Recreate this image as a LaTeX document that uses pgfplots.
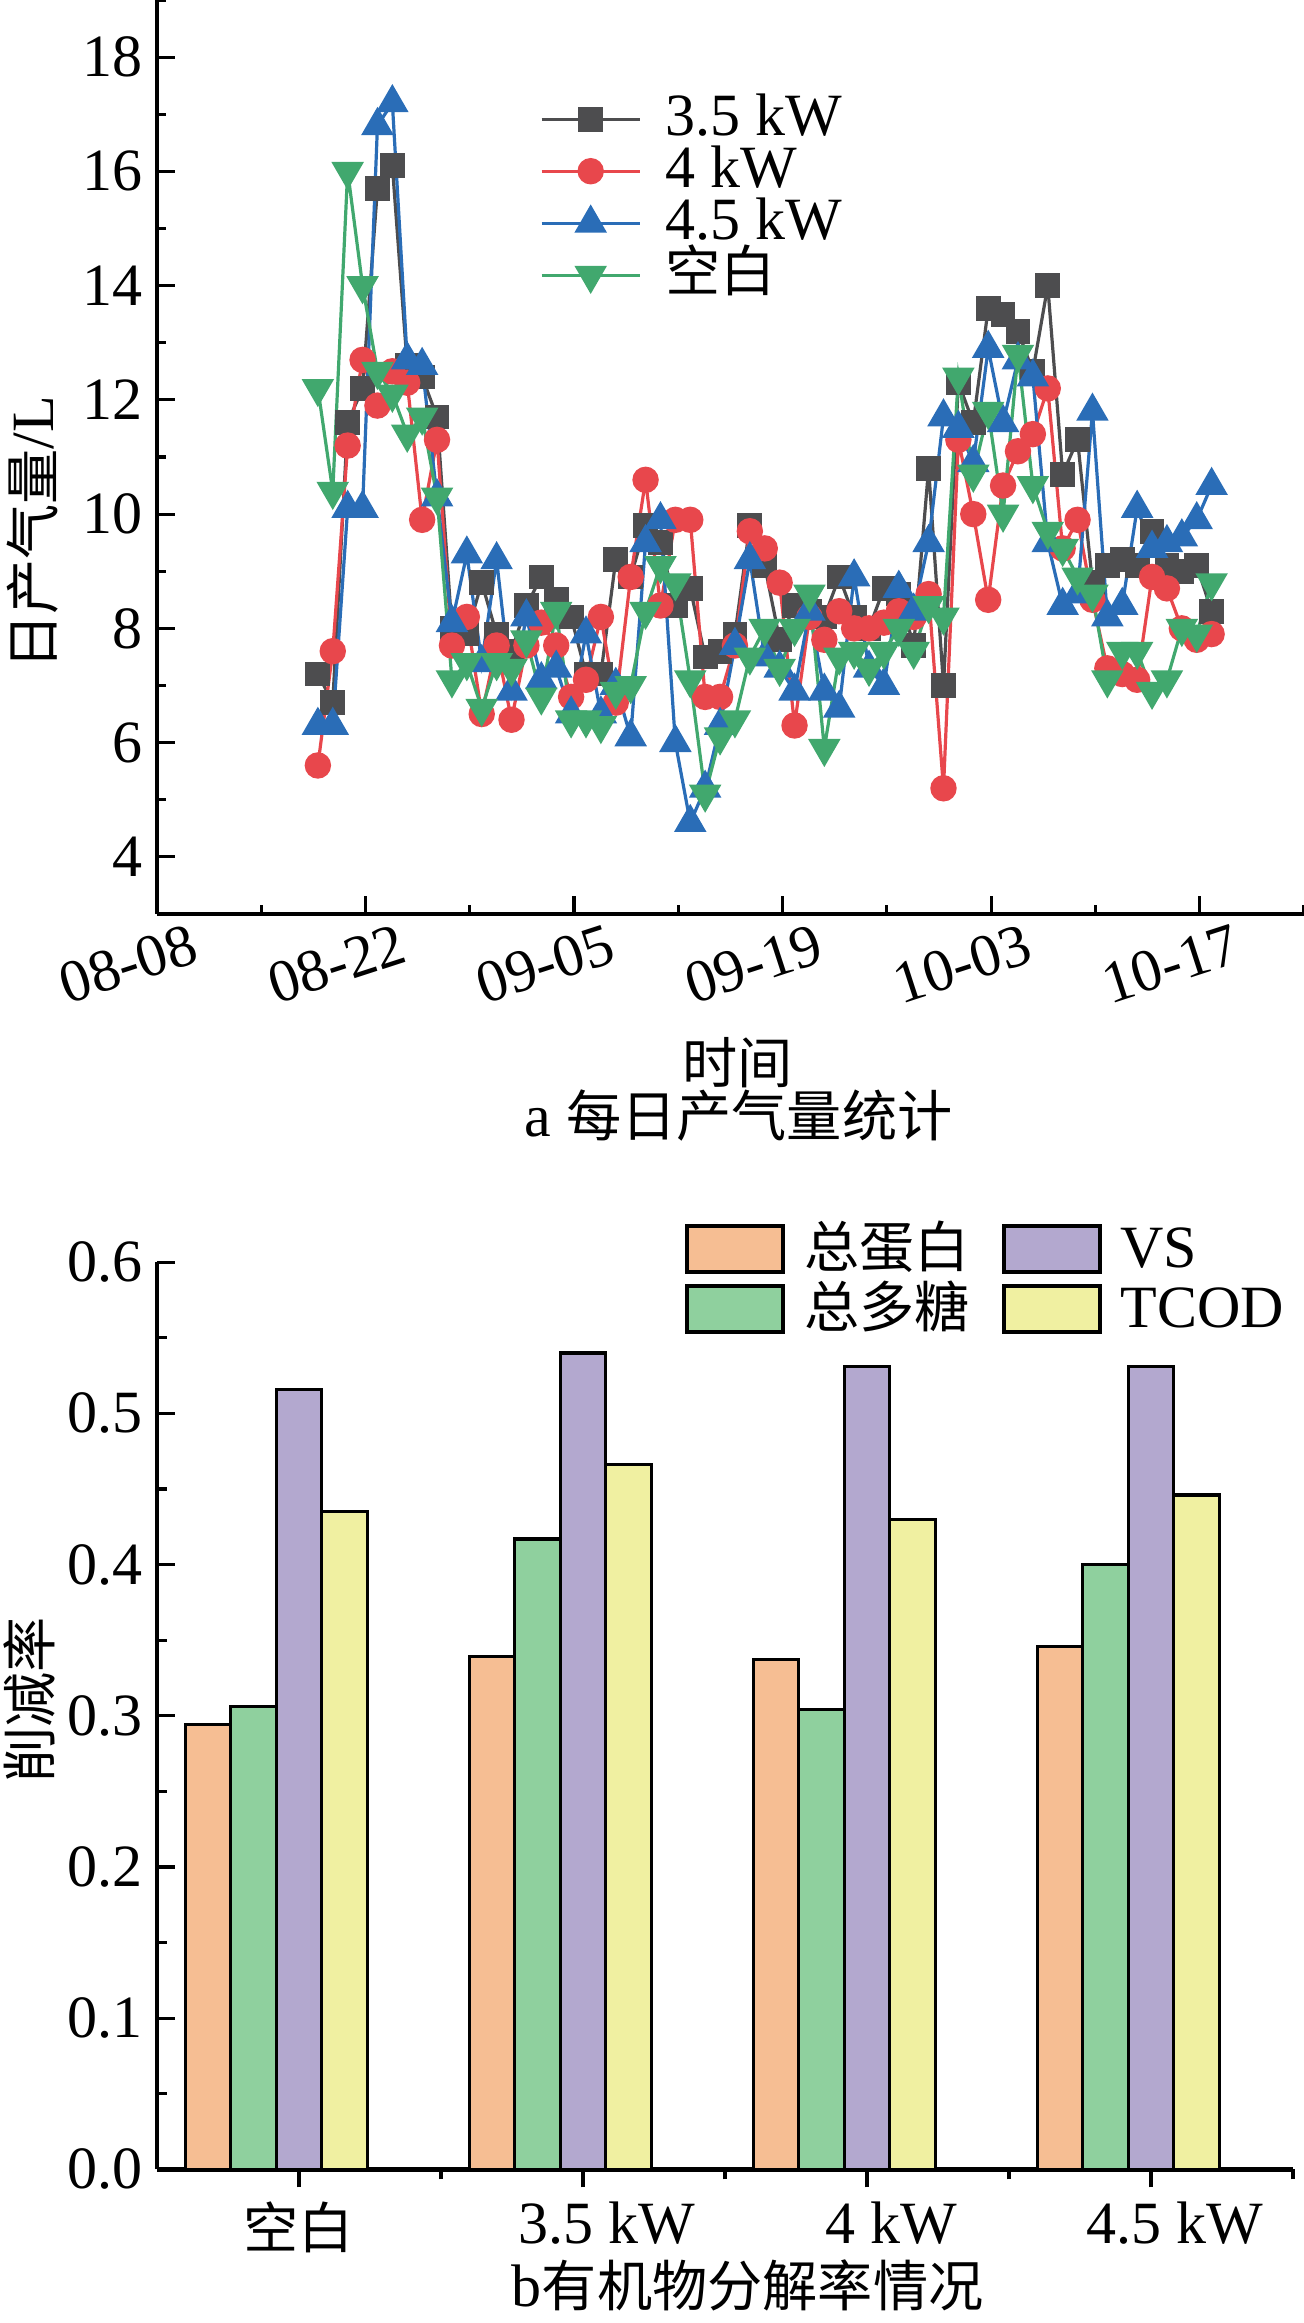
\documentclass[border=0pt]{standalone}
\usepackage{pgfplots}
\pgfplotsset{compat=1.18}
\usepackage{pgfplotstable}
\usepackage{fontspec}
\setmainfont{Liberation Serif}
\newfontfamily\cjk{Noto Sans CJK SC}[Scale=0.92]
\definecolor{cgray}{HTML}{4D4D4F}
\definecolor{cred}{HTML}{E8474C}
\definecolor{cblue}{HTML}{2A6DB7}
\definecolor{cgreen}{HTML}{41A86E}
\definecolor{bpeach}{HTML}{F6BE93}
\definecolor{bgreen}{HTML}{8FD09E}
\definecolor{bpurple}{HTML}{B3A8CF}
\definecolor{byellow}{HTML}{F0F0A1}
\newcommand{\fs}{\fontsize{15}{18}\selectfont}

\pgfplotstableread{
d a b c e
11 7.2 5.6 6.3 12.2
12 6.7 7.6 6.3 10.4
13 11.6 11.2 10.1 16.0
14 12.2 12.7 10.1 14.0
15 15.7 11.9 16.8 12.5
16 16.1 12.5 17.2 12.1
17 12.6 12.3 12.7 11.4
18 12.4 9.9 12.6 11.7
19 11.7 11.3 10.3 10.3
20 8.0 7.7 8.1 7.1
21 7.9 8.2 9.3 7.4
22 8.8 6.5 7.4 6.6
23 7.9 7.7 9.2 7.4
24 7.6 6.4 6.9 7.3
25 8.4 7.7 8.2 7.8
26 8.9 8.1 7.1 6.8
27 8.5 7.7 7.3 8.3
28 8.2 6.8 6.5 6.4
29 7.2 7.1 7.9 6.4
30 7.2 8.2 6.5 6.3
31 9.2 6.7 7.0 6.9
32 8.9 8.9 6.1 7.0
33 9.8 10.6 9.5 8.3
34 9.5 8.4 9.9 9.1
35 8.4 9.9 6.0 8.8
36 8.7 9.9 4.6 7.1
37 7.5 6.8 5.2 5.1
38 7.6 6.8 6.3 6.1
39 7.9 7.7 7.7 6.4
40 9.8 9.7 9.2 7.5
41 9.1 9.4 7.5 8.0
42 7.8 8.8 7.3 7.3
43 8.4 6.3 6.9 8.0
44 8.3 8.2 8.3 8.6
45 8.2 7.8 6.9 5.9
46 8.9 8.3 6.6 7.5
47 8.2 8.0 8.9 7.6
48 8.0 8.0 7.3 7.3
49 8.7 8.1 7.0 7.6
50 8.6 8.3 8.7 8.0
51 7.7 8.2 8.3 7.6
52 10.8 8.6 9.5 8.4
53 7.0 5.2 11.7 8.2
54 12.3 11.3 11.5 12.4
55 11.6 10.0 10.9 10.7
56 13.6 8.5 12.9 11.8
57 13.5 10.5 11.6 10.0
58 13.2 11.1 12.7 12.8
59 12.5 11.4 12.4 10.5
60 14.0 12.2 9.5 9.7
61 10.7 9.4 8.4 9.4
62 11.3 9.9 8.6 8.9
63 8.8 8.5 11.8 8.6
64 9.1 7.3 8.2 7.1
65 9.2 7.2 8.4 7.6
66 9.1 7.1 10.1 7.6
67 9.7 8.9 9.4 6.9
68 9.1 8.7 9.5 7.1
69 9.0 8.0 9.6 8.0
70 9.1 7.8 9.9 7.9
71 8.3 7.9 10.5 8.8
}\gas

\begin{document}
\begin{tikzpicture}
\useasboundingbox (0pt,0pt) rectangle (326pt,580.75pt);
% ---------------- top chart ----------------
\begin{axis}[
  at={(39.25pt,352.25pt)}, anchor=south west,
  scale only axis, width=286.75pt, height=228.5pt,
  xmin=0, xmax=77, ymin=3, ymax=19,
  axis lines=left,
  axis line style={line width=1.2pt},
  every outer x axis line/.append style={-},
  every outer y axis line/.append style={-},
  tick align=inside,
  major tick length=4.5pt, minor tick length=2.25pt,
  every tick/.append style={black, line width=0.8pt},
  xtick={0,14,28,42,56,70},
  xticklabels={08-08,08-22,09-05,09-19,10-03,10-17},
  minor xtick={7,21,35,49,63,77},
  ytick={4,6,8,10,12,14,16,18},
  minor ytick={5,7,9,11,13,15,17,19},
  tick label style={font=\fs},
  /pgf/number format/assume math mode=true,
  xticklabel style={xshift=8pt, yshift=-2pt, rotate=18, anchor=north east, inner sep=0pt},
  xlabel={\cjk 时间}, ylabel={{\cjk 日产气量}/L},
  label style={font=\fs},
  xlabel style={at={(axis description cs:0.506,-0.163)}, anchor=center},
  ylabel style={at={(axis description cs:-0.108,0.417)}, anchor=center},
  title={a {\cjk 每日产气量统计}},
  title style={font=\fs, at={(axis description cs:0.507,-0.247)}, anchor=center},
  legend cell align=left,
  legend style={at={(0.334,0.898)}, anchor=north west, draw=none, fill=none,
    inner sep=0pt, outer sep=0pt, row sep=0pt, column sep=6pt, font=\fs,
    nodes={inner sep=0pt, text height=10.5pt, text depth=2.5pt}},
  legend image code/.code={\draw[mark repeat=2,mark phase=2,#1] plot coordinates {(0pt,0pt) (12.25pt,0pt) (24.5pt,0pt)};},
]
\addplot[color=cgray, line width=0.8pt, mark=square*, mark size=2.7pt] table[x expr=\thisrow{d}-0.2, y=a] {\gas};
\addlegendentry{3.5 kW}
\addplot[color=cred, line width=0.8pt, mark=*, mark size=2.9pt] table[x expr=\thisrow{d}-0.2, y=b] {\gas};
\addlegendentry{4 kW}
\addplot[color=cblue, line width=0.8pt, mark=triangle*, mark size=3.9pt] table[x expr=\thisrow{d}-0.2, y=c] {\gas};
\addlegendentry{4.5 kW}
\addplot[color=cgreen, line width=0.8pt, mark=triangle*, mark size=3.9pt, mark options={rotate=180}] table[x expr=\thisrow{d}-0.2, y=e] {\gas};
\addlegendentry{\cjk 空白}
\end{axis}
% ---------------- bottom chart ----------------
\begin{axis}[
  at={(39.25pt,38.4pt)}, anchor=south west,
  scale only axis, width=284pt, height=226.8pt,
  xmin=0.5, xmax=4.5, ymin=0, ymax=0.6,
  axis lines=left,
  axis line style={line width=1.2pt},
  every outer x axis line/.append style={-},
  every outer y axis line/.append style={-},
  tick align=inside,
  major tick length=4.5pt, minor tick length=2.5pt,
  every tick/.append style={black, line width=0.8pt},
  ybar, bar width=0.16,
  xtick={1,2,3,4},
  xticklabels={{\cjk 空白},\hspace*{12pt}3.5 kW,\hspace*{12pt}4 kW,\hspace*{12pt}4.5 kW},
  minor xtick={1.5,2.5,3.5,4.5},
  ytick={0,0.1,0.2,0.3,0.4,0.5,0.6},
  minor ytick={0.05,0.15,0.25,0.35,0.45,0.55},
  tick label style={font=\fs},
  /pgf/number format/assume math mode=true,
  yticklabel style={/pgf/number format/.cd, fixed, fixed zerofill, precision=1},
  xlabel={b{\cjk 有机物分解率情况}}, ylabel={\cjk 削减率},
  label style={font=\fs},
  xlabel style={at={(axis description cs:0.520,-0.1275)}, anchor=center},
  ylabel style={at={(axis description cs:-0.112,0.5175)}, anchor=center},
  legend columns=2, transpose legend,
  legend cell align=left,
  legend style={at={(0.4648,1.043)}, anchor=north west, draw=none, fill=none,
    inner sep=0pt, outer sep=0pt, row sep=2pt, column sep=4.75pt, font=\fs,
    /tikz/every even column/.append style={column sep=8pt},
    nodes={inner sep=0pt, text height=11pt, text depth=2pt}},
  legend image code/.code={\draw[#1, line width=1pt] (0pt,-5.75pt) rectangle (24pt,5.75pt);},
]
\addplot[fill=bpeach, draw=black, line width=0.8pt, bar shift=-0.32] coordinates {(1,0.294) (2,0.339) (3,0.3375) (4,0.346)};
\addlegendentry{\cjk 总蛋白}
\addplot[fill=bgreen, draw=black, line width=0.8pt, bar shift=-0.16] coordinates {(1,0.306) (2,0.417) (3,0.304) (4,0.400)};
\addlegendentry{\cjk 总多糖}
\addplot[fill=bpurple, draw=black, line width=0.8pt, bar shift=0] coordinates {(1,0.516) (2,0.540) (3,0.531) (4,0.531)};
\addlegendentry{VS}
\addplot[fill=byellow, draw=black, line width=0.8pt, bar shift=0.16] coordinates {(1,0.435) (2,0.466) (3,0.430) (4,0.446)};
\addlegendentry{TCOD}
\end{axis}
\end{tikzpicture}
\end{document}
